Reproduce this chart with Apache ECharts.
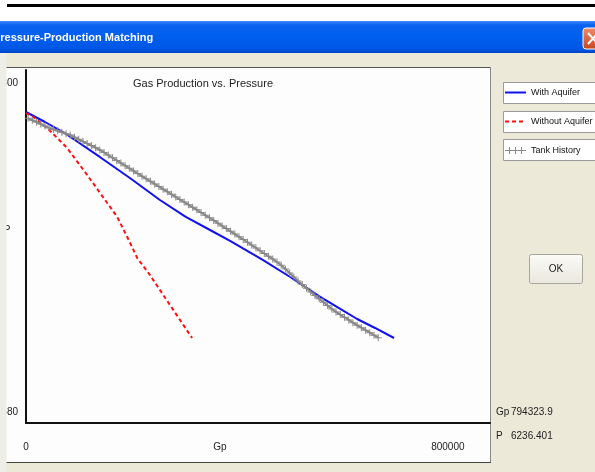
<!DOCTYPE html>
<html>
<head>
<meta charset="utf-8">
<script src="https://cdn.jsdelivr.net/npm/echarts@6/dist/echarts.min.js"></script>
<style>
html,body{margin:0;padding:0;background:#fff;}
#chart{width:595px;height:472px;}
</style>
</head>
<body>
<div id="chart"></div>
<script>
// Gas production (Gp) vs. reservoir pressure (P)
const seriesNames = ['With Aquifer', 'Without Aquifer', 'Tank History'];

const withAquiferGp = [0, 36000, 76000, 140000, 197000, 254000, 303000, 349000, 387000, 449000, 501000, 558000, 596000, 628000, 662000, 698000];
const withAquiferP  = [6516, 6418, 6301, 6076, 5870, 5655, 5489, 5361, 5254, 5068, 4901, 4706, 4588, 4490, 4402, 4304];

const withoutAquiferGp = [0, 17000, 46000, 78000, 116000, 150000, 173000, 192000, 211000, 235000, 264000, 292000, 315000];
const withoutAquiferP  = [6506, 6457, 6330, 6164, 5900, 5655, 5489, 5293, 5087, 4921, 4696, 4481, 4304];

const tankGp = [
  4000, 12000, 20000, 28000, 36000, 44000, 52000, 60000, 68000, 76000,
  84000, 92000, 100000, 108000, 116000, 124000, 132000, 140000, 148000, 156000,
  164000, 172000, 180000, 188000, 196000, 204000, 212000, 220000, 228000, 236000,
  244000, 252000, 260000, 268000, 276000, 284000, 292000, 300000, 308000, 316000,
  324000, 332000, 340000, 348000, 356000, 364000, 372000, 380000, 388000, 396000,
  404000, 412000, 420000, 428000, 436000, 444000, 452000, 460000, 468000, 476000,
  484000, 492000, 500000, 508000, 516000, 524000, 532000, 540000, 548000, 556000,
  564000, 572000, 580000, 588000, 596000, 604000, 612000, 620000, 628000, 636000,
  644000, 652000, 660000, 668000
];
const tankP = [
  6454, 6435, 6417, 6398, 6379, 6360, 6345, 6332, 6318, 6304,
  6290, 6269, 6248, 6228, 6207, 6187, 6166, 6145, 6120, 6094,
  6068, 6042, 6016, 5991, 5965, 5939, 5913, 5888, 5862, 5837,
  5812, 5786, 5761, 5736, 5710, 5685, 5659, 5634, 5609, 5583,
  5558, 5532, 5506, 5481, 5455, 5428, 5401, 5375, 5348, 5321,
  5294, 5268, 5241, 5213, 5186, 5158, 5131, 5103, 5076, 5048,
  5017, 4979, 4940, 4901, 4863, 4827, 4791, 4754, 4720, 4687,
  4654, 4621, 4588, 4559, 4533, 4507, 4481, 4454, 4429, 4405,
  4380, 4356, 4331, 4307
];

// axis tick labels
const gpTicks = [0, 800000];
const pTicks = [3580, 6800];

// cursor read-out shown beside the plot
const readGp = '794323.9';
const readP = '6236.401';

const zip = (xs, ys) => xs.map((x, i) => [x, ys[i]]);

const font = 'Liberation Sans, Arial, sans-serif';
const plusSymbol = 'path://M3,0H4V7H3Z M0,3H7V4H0Z';
const tankLegendIcon = 'path://M0,4H21V5H0Z M4,1H5V8H4Z M10,1H11V8H10Z M16,1H17V8H16Z';

const chart = echarts.init(document.getElementById('chart'), null, {renderer: 'canvas'});

chart.setOption({
  animation: false,
  backgroundColor: '#ECE9D8',
  textStyle: {fontFamily: font},
  title: {
    text: 'Gas Production vs. Pressure',
    left: 128, top: 73,
    textStyle: {fontSize: 11, fontWeight: 'normal', color: '#222', fontFamily: font}
  },
  legend: {
    orient: 'vertical',
    left: 504, top: 88,
    padding: 0,
    itemWidth: 21, itemHeight: 8,
    itemGap: 20,
    textStyle: {fontSize: 9, color: '#111', fontFamily: font},
    data: [
      {name: seriesNames[0], itemStyle: {opacity: 0}},
      {name: seriesNames[1], itemStyle: {opacity: 0}},
      {name: seriesNames[2], icon: tankLegendIcon}
    ]
  },
  grid: {left: 26, top: 70, right: 105, bottom: 49, outerBoundsMode: 'none', containLabel: false},
  xAxis: {
    type: 'value',
    min: 0, max: 880000,
    axisLine: {show: true, onZero: false, lineStyle: {color: '#111', width: 2}},
    axisTick: {show: false},
    splitLine: {show: false},
    axisLabel: {customValues: gpTicks, margin: 19, fontSize: 10, color: '#222', formatter: v => String(v)}
  },
  yAxis: {
    type: 'value',
    min: 3472, max: 6927,
    axisLine: {show: true, onZero: false, lineStyle: {color: '#111', width: 2}},
    axisTick: {show: false},
    splitLine: {show: false},
    axisLabel: {customValues: pTicks, margin: 8, fontSize: 10, color: '#222', formatter: v => String(v)}
  },
  series: [
    {
      name: seriesNames[0], type: 'line', data: zip(withAquiferGp, withAquiferP),
      symbol: 'none', lineStyle: {color: '#1010F0', width: 2}, itemStyle: {color: '#1010F0'}
    },
    {
      name: seriesNames[1], type: 'line', data: zip(withoutAquiferGp, withoutAquiferP),
      symbol: 'none', lineStyle: {color: '#FF1010', width: 2, type: [4, 3]}, itemStyle: {color: '#FF1010'}
    },
    {
      name: seriesNames[2], type: 'line', data: zip(tankGp, tankP),
      symbol: plusSymbol, symbolSize: 7, showAllSymbol: true,
      lineStyle: {color: '#888', width: 2}, itemStyle: {color: '#888', borderWidth: 0}
    }
  ],
  graphic: {
    elements: [
      // window chrome above the dialog
      {type: 'rect', z: -20, shape: {x: 0, y: 0, width: 595, height: 21}, style: {fill: '#fff'}},
      {type: 'rect', z: -19, shape: {x: 7, y: 4, width: 588, height: 3}, style: {fill: '#000'}},
      {type: 'rect', z: -19, shape: {x: 0, y: 21, width: 595, height: 32},
        style: {fill: new echarts.graphic.LinearGradient(0, 0, 0, 1, [
          {offset: 0, color: '#3D8CF7'}, {offset: 0.12, color: '#0C63EE'},
          {offset: 0.5, color: '#005FEE'}, {offset: 0.88, color: '#0056E4'}, {offset: 1, color: '#0044C4'}])}},
      {type: 'text', z: 10, style: {x: -7, y: 38, text: 'Pressure-Production Matching', fill: '#fff',
        font: 'bold 11px ' + font, verticalAlign: 'middle'}},
      {type: 'rect', z: 10, shape: {x: 583, y: 28, width: 20, height: 21, r: 3},
        style: {fill: new echarts.graphic.LinearGradient(0, 0, 0, 1, [
          {offset: 0, color: '#EE8D6A'}, {offset: 1, color: '#C9431F'}]), stroke: '#fff', lineWidth: 1}},
      {type: 'line', z: 11, shape: {x1: 588, y1: 33, x2: 598, y2: 44}, style: {stroke: '#fff', lineWidth: 2}},
      {type: 'line', z: 11, shape: {x1: 598, y1: 33, x2: 588, y2: 44}, style: {stroke: '#fff', lineWidth: 2}},

      // white chart panel
      {type: 'rect', z: -10, shape: {x: 6, y: 67, width: 484, height: 396}, style: {fill: '#FDFDFD'}},
      {type: 'line', z: -9, shape: {x1: 6, y1: 67.5, x2: 490, y2: 67.5}, style: {stroke: '#555', lineWidth: 1}},
      {type: 'line', z: -9, shape: {x1: 490.5, y1: 67, x2: 490.5, y2: 463}, style: {stroke: '#888', lineWidth: 1}},
      {type: 'line', z: -9, shape: {x1: 6, y1: 462.5, x2: 491, y2: 462.5}, style: {stroke: '#444', lineWidth: 1}},

      // axis names
      {type: 'text', z: 5, style: {x: 220, y: 447, text: 'Gp', fill: '#222', font: '10px ' + font,
        align: 'center', verticalAlign: 'middle'}},
      {type: 'text', z: 5, style: {x: 10.5, y: 230, text: 'P', fill: '#222', font: '10px ' + font,
        align: 'right', verticalAlign: 'middle'}},

      // legend frames
      {type: 'rect', z: 1, shape: {x: 503.5, y: 82.5, width: 100, height: 21}, style: {fill: '#fff', stroke: '#9a9a9a', lineWidth: 1}},
      {type: 'rect', z: 1, shape: {x: 503.5, y: 111.5, width: 100, height: 21}, style: {fill: '#fff', stroke: '#9a9a9a', lineWidth: 1}},
      {type: 'rect', z: 1, shape: {x: 503.5, y: 139.5, width: 100, height: 21}, style: {fill: '#fff', stroke: '#9a9a9a', lineWidth: 1}},

      // OK button
      {type: 'rect', z: 1, shape: {x: 529.5, y: 254.5, width: 53, height: 29, r: 2},
        style: {fill: new echarts.graphic.LinearGradient(0, 0, 0, 1, [
          {offset: 0, color: '#FBFBF8'}, {offset: 1, color: '#E9E7DD'}]), stroke: '#A9A79A', lineWidth: 1}},
      {type: 'text', z: 2, style: {x: 556, y: 269, text: 'OK', fill: '#222', font: '10px ' + font,
        align: 'center', verticalAlign: 'middle'}},

      // read-out
      {type: 'text', z: 2, style: {x: 496, y: 412, text: 'Gp', fill: '#222', font: '10px ' + font, verticalAlign: 'middle'}},
      {type: 'text', z: 2, style: {x: 511, y: 412, text: readGp, fill: '#222', font: '10px ' + font, verticalAlign: 'middle'}},
      {type: 'text', z: 2, style: {x: 496, y: 436, text: 'P', fill: '#222', font: '10px ' + font, verticalAlign: 'middle'}},
      {type: 'text', z: 2, style: {x: 511, y: 436, text: readP, fill: '#222', font: '10px ' + font, verticalAlign: 'middle'}},

      // left edge of the dialog that crops the panel
      {type: 'rect', z: 100, shape: {x: 0, y: 53, width: 6.5, height: 419}, style: {fill: '#EEEEE6'}}
    ]
  }
});
</script>
</body>
</html>
